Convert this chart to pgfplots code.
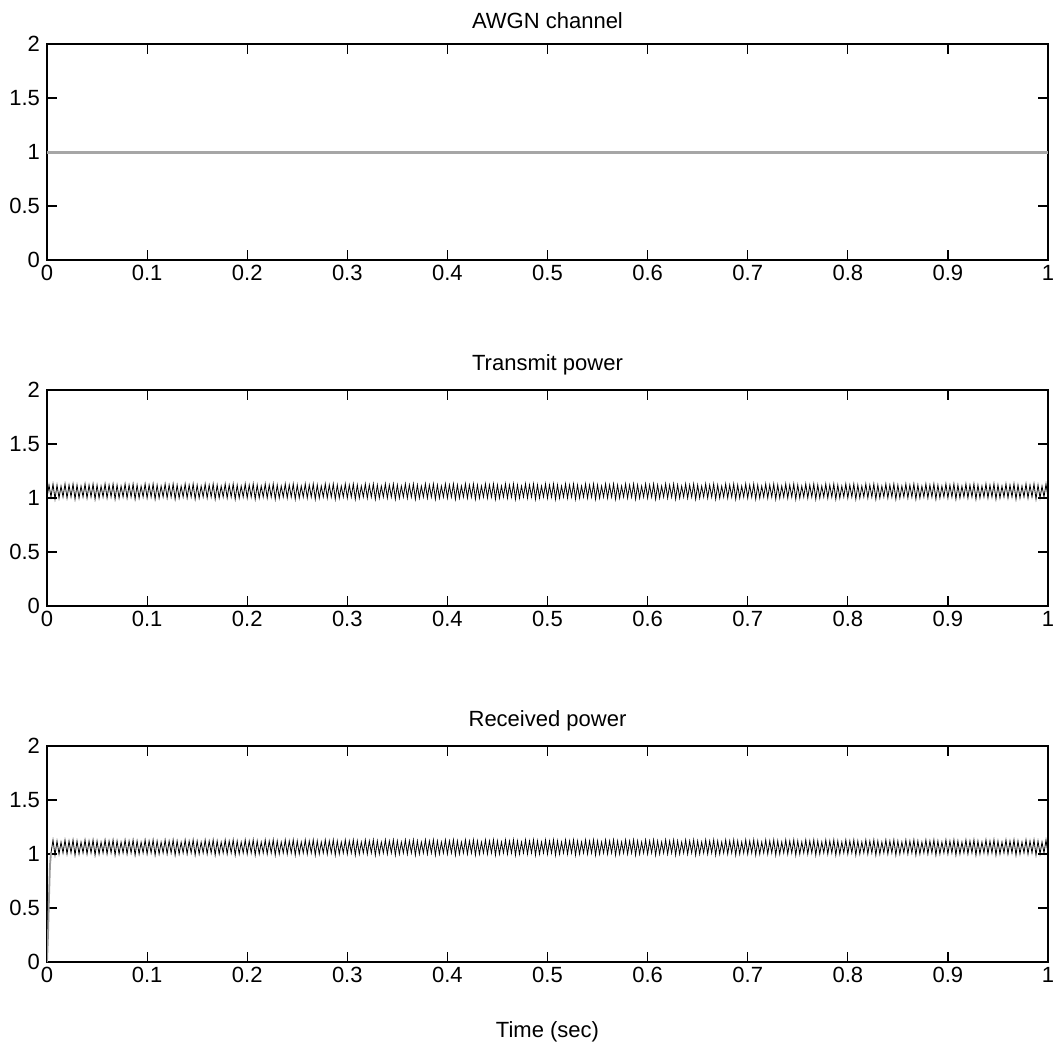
\documentclass[border=0pt]{standalone}
\usepackage{pgfplots}
\pgfplotsset{compat=1.18}
\usepackage{pgfplotstable}
\usepackage{fontspec}
\setmainfont{Liberation Sans}

\pgfplotstableread[row sep=\\]{
x y \\
0.000 1 \\ 0.002 1.12 \\ 0.004 1.01 \\ 0.006 1.13 \\ 0.008 0.99 \\ 0.010 1.12 \\ 0.012 1 \\ 0.014 1.11 \\ 0.016 1.01 \\ 0.018 1.13 \\
0.020 1 \\ 0.022 1.12 \\ 0.024 1.01 \\ 0.026 1.13 \\ 0.028 0.99 \\ 0.030 1.12 \\ 0.032 1 \\ 0.034 1.11 \\ 0.036 1.01 \\ 0.038 1.13 \\
0.040 1 \\ 0.042 1.12 \\ 0.044 1.01 \\ 0.046 1.13 \\ 0.048 0.99 \\ 0.050 1.12 \\ 0.052 1 \\ 0.054 1.11 \\ 0.056 1.01 \\ 0.058 1.13 \\
0.060 1 \\ 0.062 1.12 \\ 0.064 1.01 \\ 0.066 1.13 \\ 0.068 0.99 \\ 0.070 1.12 \\ 0.072 1 \\ 0.074 1.11 \\ 0.076 1.01 \\ 0.078 1.13 \\
0.080 1 \\ 0.082 1.12 \\ 0.084 1.01 \\ 0.086 1.13 \\ 0.088 0.99 \\ 0.090 1.12 \\ 0.092 1 \\ 0.094 1.11 \\ 0.096 1.01 \\ 0.098 1.13 \\
0.100 1 \\ 0.102 1.12 \\ 0.104 1.01 \\ 0.106 1.13 \\ 0.108 0.99 \\ 0.110 1.12 \\ 0.112 1 \\ 0.114 1.11 \\ 0.116 1.01 \\ 0.118 1.13 \\
0.120 1 \\ 0.122 1.12 \\ 0.124 1.01 \\ 0.126 1.13 \\ 0.128 0.99 \\ 0.130 1.12 \\ 0.132 1 \\ 0.134 1.11 \\ 0.136 1.01 \\ 0.138 1.13 \\
0.140 1 \\ 0.142 1.12 \\ 0.144 1.01 \\ 0.146 1.13 \\ 0.148 0.99 \\ 0.150 1.12 \\ 0.152 1 \\ 0.154 1.11 \\ 0.156 1.01 \\ 0.158 1.13 \\
0.160 1 \\ 0.162 1.12 \\ 0.164 1.01 \\ 0.166 1.13 \\ 0.168 0.99 \\ 0.170 1.12 \\ 0.172 1 \\ 0.174 1.11 \\ 0.176 1.01 \\ 0.178 1.13 \\
0.180 1 \\ 0.182 1.12 \\ 0.184 1.01 \\ 0.186 1.13 \\ 0.188 0.99 \\ 0.190 1.12 \\ 0.192 1 \\ 0.194 1.11 \\ 0.196 1.01 \\ 0.198 1.13 \\
0.200 1 \\ 0.202 1.12 \\ 0.204 1.01 \\ 0.206 1.13 \\ 0.208 0.99 \\ 0.210 1.12 \\ 0.212 1 \\ 0.214 1.11 \\ 0.216 1.01 \\ 0.218 1.13 \\
0.220 1 \\ 0.222 1.12 \\ 0.224 1.01 \\ 0.226 1.13 \\ 0.228 0.99 \\ 0.230 1.12 \\ 0.232 1 \\ 0.234 1.11 \\ 0.236 1.01 \\ 0.238 1.13 \\
0.240 1 \\ 0.242 1.12 \\ 0.244 1.01 \\ 0.246 1.13 \\ 0.248 0.99 \\ 0.250 1.12 \\ 0.252 1 \\ 0.254 1.11 \\ 0.256 1.01 \\ 0.258 1.13 \\
0.260 1 \\ 0.262 1.12 \\ 0.264 1.01 \\ 0.266 1.13 \\ 0.268 0.99 \\ 0.270 1.12 \\ 0.272 1 \\ 0.274 1.11 \\ 0.276 1.01 \\ 0.278 1.13 \\
0.280 1 \\ 0.282 1.12 \\ 0.284 1.01 \\ 0.286 1.13 \\ 0.288 0.99 \\ 0.290 1.12 \\ 0.292 1 \\ 0.294 1.11 \\ 0.296 1.01 \\ 0.298 1.13 \\
0.300 1 \\ 0.302 1.12 \\ 0.304 1.01 \\ 0.306 1.13 \\ 0.308 0.99 \\ 0.310 1.12 \\ 0.312 1 \\ 0.314 1.11 \\ 0.316 1.01 \\ 0.318 1.13 \\
0.320 1 \\ 0.322 1.12 \\ 0.324 1.01 \\ 0.326 1.13 \\ 0.328 0.99 \\ 0.330 1.12 \\ 0.332 1 \\ 0.334 1.11 \\ 0.336 1.01 \\ 0.338 1.13 \\
0.340 1 \\ 0.342 1.12 \\ 0.344 1.01 \\ 0.346 1.13 \\ 0.348 0.99 \\ 0.350 1.12 \\ 0.352 1 \\ 0.354 1.11 \\ 0.356 1.01 \\ 0.358 1.13 \\
0.360 1 \\ 0.362 1.12 \\ 0.364 1.01 \\ 0.366 1.13 \\ 0.368 0.99 \\ 0.370 1.12 \\ 0.372 1 \\ 0.374 1.11 \\ 0.376 1.01 \\ 0.378 1.13 \\
0.380 1 \\ 0.382 1.12 \\ 0.384 1.01 \\ 0.386 1.13 \\ 0.388 0.99 \\ 0.390 1.12 \\ 0.392 1 \\ 0.394 1.11 \\ 0.396 1.01 \\ 0.398 1.13 \\
0.400 1 \\ 0.402 1.12 \\ 0.404 1.01 \\ 0.406 1.13 \\ 0.408 0.99 \\ 0.410 1.12 \\ 0.412 1 \\ 0.414 1.11 \\ 0.416 1.01 \\ 0.418 1.13 \\
0.420 1 \\ 0.422 1.12 \\ 0.424 1.01 \\ 0.426 1.13 \\ 0.428 0.99 \\ 0.430 1.12 \\ 0.432 1 \\ 0.434 1.11 \\ 0.436 1.01 \\ 0.438 1.13 \\
0.440 1 \\ 0.442 1.12 \\ 0.444 1.01 \\ 0.446 1.13 \\ 0.448 0.99 \\ 0.450 1.12 \\ 0.452 1 \\ 0.454 1.11 \\ 0.456 1.01 \\ 0.458 1.13 \\
0.460 1 \\ 0.462 1.12 \\ 0.464 1.01 \\ 0.466 1.13 \\ 0.468 0.99 \\ 0.470 1.12 \\ 0.472 1 \\ 0.474 1.11 \\ 0.476 1.01 \\ 0.478 1.13 \\
0.480 1 \\ 0.482 1.12 \\ 0.484 1.01 \\ 0.486 1.13 \\ 0.488 0.99 \\ 0.490 1.12 \\ 0.492 1 \\ 0.494 1.11 \\ 0.496 1.01 \\ 0.498 1.13 \\
0.500 1 \\ 0.502 1.12 \\ 0.504 1.01 \\ 0.506 1.13 \\ 0.508 0.99 \\ 0.510 1.12 \\ 0.512 1 \\ 0.514 1.11 \\ 0.516 1.01 \\ 0.518 1.13 \\
0.520 1 \\ 0.522 1.12 \\ 0.524 1.01 \\ 0.526 1.13 \\ 0.528 0.99 \\ 0.530 1.12 \\ 0.532 1 \\ 0.534 1.11 \\ 0.536 1.01 \\ 0.538 1.13 \\
0.540 1 \\ 0.542 1.12 \\ 0.544 1.01 \\ 0.546 1.13 \\ 0.548 0.99 \\ 0.550 1.12 \\ 0.552 1 \\ 0.554 1.11 \\ 0.556 1.01 \\ 0.558 1.13 \\
0.560 1 \\ 0.562 1.12 \\ 0.564 1.01 \\ 0.566 1.13 \\ 0.568 0.99 \\ 0.570 1.12 \\ 0.572 1 \\ 0.574 1.11 \\ 0.576 1.01 \\ 0.578 1.13 \\
0.580 1 \\ 0.582 1.12 \\ 0.584 1.01 \\ 0.586 1.13 \\ 0.588 0.99 \\ 0.590 1.12 \\ 0.592 1 \\ 0.594 1.11 \\ 0.596 1.01 \\ 0.598 1.13 \\
0.600 1 \\ 0.602 1.12 \\ 0.604 1.01 \\ 0.606 1.13 \\ 0.608 0.99 \\ 0.610 1.12 \\ 0.612 1 \\ 0.614 1.11 \\ 0.616 1.01 \\ 0.618 1.13 \\
0.620 1 \\ 0.622 1.12 \\ 0.624 1.01 \\ 0.626 1.13 \\ 0.628 0.99 \\ 0.630 1.12 \\ 0.632 1 \\ 0.634 1.11 \\ 0.636 1.01 \\ 0.638 1.13 \\
0.640 1 \\ 0.642 1.12 \\ 0.644 1.01 \\ 0.646 1.13 \\ 0.648 0.99 \\ 0.650 1.12 \\ 0.652 1 \\ 0.654 1.11 \\ 0.656 1.01 \\ 0.658 1.13 \\
0.660 1 \\ 0.662 1.12 \\ 0.664 1.01 \\ 0.666 1.13 \\ 0.668 0.99 \\ 0.670 1.12 \\ 0.672 1 \\ 0.674 1.11 \\ 0.676 1.01 \\ 0.678 1.13 \\
0.680 1 \\ 0.682 1.12 \\ 0.684 1.01 \\ 0.686 1.13 \\ 0.688 0.99 \\ 0.690 1.12 \\ 0.692 1 \\ 0.694 1.11 \\ 0.696 1.01 \\ 0.698 1.13 \\
0.700 1 \\ 0.702 1.12 \\ 0.704 1.01 \\ 0.706 1.13 \\ 0.708 0.99 \\ 0.710 1.12 \\ 0.712 1 \\ 0.714 1.11 \\ 0.716 1.01 \\ 0.718 1.13 \\
0.720 1 \\ 0.722 1.12 \\ 0.724 1.01 \\ 0.726 1.13 \\ 0.728 0.99 \\ 0.730 1.12 \\ 0.732 1 \\ 0.734 1.11 \\ 0.736 1.01 \\ 0.738 1.13 \\
0.740 1 \\ 0.742 1.12 \\ 0.744 1.01 \\ 0.746 1.13 \\ 0.748 0.99 \\ 0.750 1.12 \\ 0.752 1 \\ 0.754 1.11 \\ 0.756 1.01 \\ 0.758 1.13 \\
0.760 1 \\ 0.762 1.12 \\ 0.764 1.01 \\ 0.766 1.13 \\ 0.768 0.99 \\ 0.770 1.12 \\ 0.772 1 \\ 0.774 1.11 \\ 0.776 1.01 \\ 0.778 1.13 \\
0.780 1 \\ 0.782 1.12 \\ 0.784 1.01 \\ 0.786 1.13 \\ 0.788 0.99 \\ 0.790 1.12 \\ 0.792 1 \\ 0.794 1.11 \\ 0.796 1.01 \\ 0.798 1.13 \\
0.800 1 \\ 0.802 1.12 \\ 0.804 1.01 \\ 0.806 1.13 \\ 0.808 0.99 \\ 0.810 1.12 \\ 0.812 1 \\ 0.814 1.11 \\ 0.816 1.01 \\ 0.818 1.13 \\
0.820 1 \\ 0.822 1.12 \\ 0.824 1.01 \\ 0.826 1.13 \\ 0.828 0.99 \\ 0.830 1.12 \\ 0.832 1 \\ 0.834 1.11 \\ 0.836 1.01 \\ 0.838 1.13 \\
0.840 1 \\ 0.842 1.12 \\ 0.844 1.01 \\ 0.846 1.13 \\ 0.848 0.99 \\ 0.850 1.12 \\ 0.852 1 \\ 0.854 1.11 \\ 0.856 1.01 \\ 0.858 1.13 \\
0.860 1 \\ 0.862 1.12 \\ 0.864 1.01 \\ 0.866 1.13 \\ 0.868 0.99 \\ 0.870 1.12 \\ 0.872 1 \\ 0.874 1.11 \\ 0.876 1.01 \\ 0.878 1.13 \\
0.880 1 \\ 0.882 1.12 \\ 0.884 1.01 \\ 0.886 1.13 \\ 0.888 0.99 \\ 0.890 1.12 \\ 0.892 1 \\ 0.894 1.11 \\ 0.896 1.01 \\ 0.898 1.13 \\
0.900 1 \\ 0.902 1.12 \\ 0.904 1.01 \\ 0.906 1.13 \\ 0.908 0.99 \\ 0.910 1.12 \\ 0.912 1 \\ 0.914 1.11 \\ 0.916 1.01 \\ 0.918 1.13 \\
0.920 1 \\ 0.922 1.12 \\ 0.924 1.01 \\ 0.926 1.13 \\ 0.928 0.99 \\ 0.930 1.12 \\ 0.932 1 \\ 0.934 1.11 \\ 0.936 1.01 \\ 0.938 1.13 \\
0.940 1 \\ 0.942 1.12 \\ 0.944 1.01 \\ 0.946 1.13 \\ 0.948 0.99 \\ 0.950 1.12 \\ 0.952 1 \\ 0.954 1.11 \\ 0.956 1.01 \\ 0.958 1.13 \\
0.960 1 \\ 0.962 1.12 \\ 0.964 1.01 \\ 0.966 1.13 \\ 0.968 0.99 \\ 0.970 1.12 \\ 0.972 1 \\ 0.974 1.11 \\ 0.976 1.01 \\ 0.978 1.13 \\
0.980 1 \\ 0.982 1.12 \\ 0.984 1.01 \\ 0.986 1.13 \\ 0.988 0.99 \\ 0.990 1.12 \\ 0.992 1 \\ 0.994 1.11 \\ 0.996 1.01 \\ 0.998 1.13 \\
1.000 1 \\
}\powerdata

\pgfplotsset{
  myax/.style={
    scale only axis,
    width=500.5pt, height=108pt,
    xmin=0, xmax=1, ymin=0, ymax=2,
    xtick={0,0.1,...,1.0},
    ytick={0,0.5,1,1.5,2},
    xticklabels={0,0.1,0.2,0.3,0.4,0.5,0.6,0.7,0.8,0.9,1},
    yticklabels={0,0.5,1,1.5,2},
    tick align=inside,
    major tick length=5pt,
    tick style={black, line width=0.6pt},
    axis line style={line width=0.6pt},
    font=\fontsize{11}{13}\selectfont,
    title style={yshift=-2pt},
    xticklabel style={yshift=1pt},
    anchor=south west,
  }
}

\begin{document}
\begin{tikzpicture}
\path[use as bounding box] (0,0) rectangle (526.5pt,-522pt);
% top
\begin{axis}[myax, at={(23.5pt,-130pt)}, title={AWGN channel}]
\addplot[black!35, line width=1.5pt] coordinates {(0,1) (1,1)};
\end{axis}
% middle
\begin{axis}[myax, at={(23.5pt,-303pt)}, title={Transmit power}]
\addplot[black, line width=0.4pt] table[x=x,y=y] {\powerdata};
\end{axis}
% bottom
\begin{axis}[myax, at={(23.5pt,-481pt)}, title={Received power},
  xlabel={Time (sec)}, xlabel style={yshift=-12.5pt}]
\addplot[black!40, line width=0.9pt] coordinates {(0,0) (0.001,0.25) (0.002,0.6) (0.003,0.9) (0.004,1.01)};
\addplot[black, line width=0.4pt, restrict x to domain=0.004:1] table[x=x,y=y] {\powerdata};
\end{axis}
\end{tikzpicture}
\end{document}
